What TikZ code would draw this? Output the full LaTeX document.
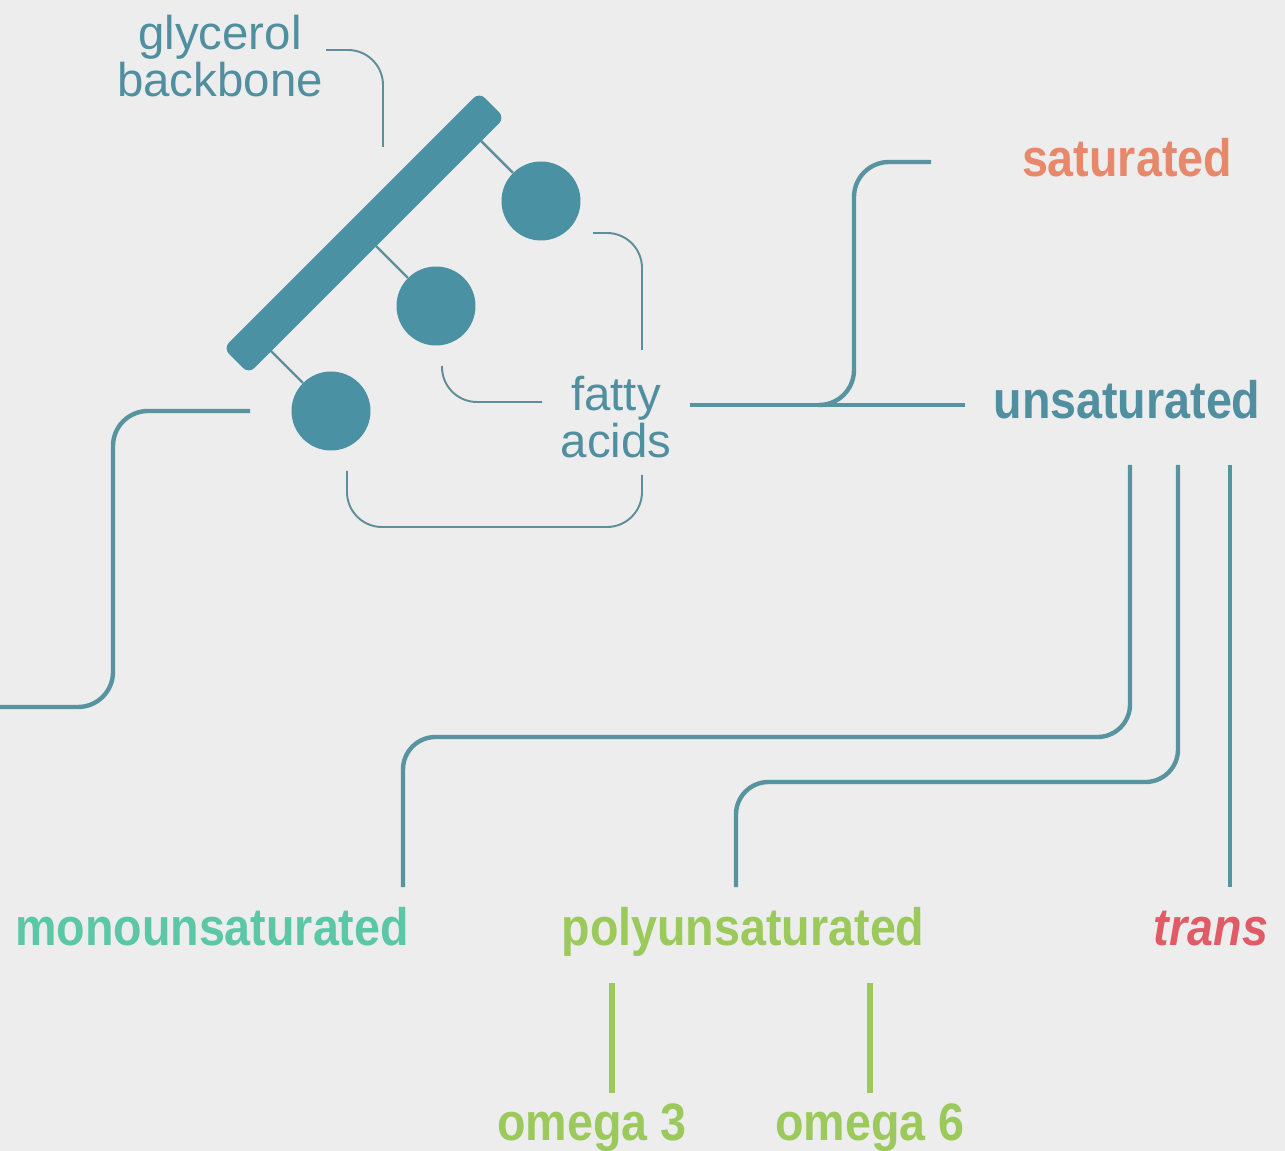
\documentclass[tikz,border=0pt]{standalone}
\usepackage{fontspec}
\setmainfont{Liberation Sans}
\newfontfamily\labelfont{Liberation Sans}[FakeStretch=0.885]
\usetikzlibrary{positioning,calc}
\definecolor{fatTeal}{HTML}{4A91A4}
\definecolor{lineTeal}{HTML}{5893A0}
\definecolor{leaderGray}{HTML}{5F8E9B}
\definecolor{textTeal}{HTML}{4F8FA0}
\definecolor{satSalmon}{HTML}{E8886B}
\definecolor{monoGreen}{HTML}{5CC7A6}
\definecolor{polyGreen}{HTML}{9BC95C}
\definecolor{transRed}{HTML}{E15B66}
\definecolor{bgGray}{HTML}{EDEDED}

\begin{document}
\begin{tikzpicture}[
  x=0.02cm, y=-0.02cm,
  plain/.style={text=textTeal, font=\fontsize{27}{27}\selectfont, align=center, inner sep=0pt, anchor=base},
  kind/.style={font=\labelfont\bfseries\fontsize{30}{36}\selectfont, inner sep=0pt, anchor=base},
  bar/.style={rectangle, fill=fatTeal, rounded corners=0.16cm, minimum width=7.24cm, minimum height=0.72cm, inner sep=0pt},
  acid/.style={circle, fill=fatTeal, minimum size=1.58cm, inner sep=0pt},
  stick/.style={draw=leaderGray, line width=1.4pt},
  leader/.style={draw=leaderGray, line width=1.1pt, rounded corners=0.7cm},
  branch/.style={draw=lineTeal, line width=2.5pt, rounded corners=0.65cm},
  omega/.style={draw=polyGreen, line width=3pt}
]
\fill[bgGray] (0,0) rectangle (1285,1151);
\useasboundingbox (0,0) rectangle (1285,1151);

\node[plain] (glycerol) at (220,97) {glycerol\\backbone};
\node[plain] (fatty) at (616,458) {fatty\\acids};
\node[kind, text=satSalmon] (sat) at (1127,177) {saturated};
\node[kind, text=textTeal] (unsat) at (1127,419) {unsaturated};
\node[kind, text=monoGreen] (mono) at (212,945) {monounsaturated};
\node[kind, text=polyGreen] (poly) at (743,945) {polyunsaturated};
\node[kind, text=transRed] (trans) at (1211,945) {\itshape trans};
\node[kind, text=polyGreen] (om3) at (592,1140) {omega 3};
\node[kind, text=polyGreen] (om6) at (870,1140) {omega 6};

\coordinate (bartop) at (492,105);
\coordinate (barbot) at (236,361);
\node[acid] (c1) at (541,201) {};
\node[acid] (c2) at (436,306) {};
\node[acid] (c3) at (331,411) {};
\foreach \c in {c1,c2,c3}
  \draw[stick] ($(barbot)!(\c)!(bartop)$) -- (\c);
\node[bar, rotate=45] (backbone) at ($(barbot)!0.5!(bartop)$) {};

\coordinate (gtip) at (383,147);
\coordinate (fa1) at (593,233);
\coordinate (fa2) at (642,350);
\coordinate (fa3) at (542,402);
\coordinate (fa4) at (642,475);
\draw[leader] ([xshift=0.06cm,yshift=0.94cm]glycerol.base east) -| (gtip);
\draw[leader] (fa1) -| (fa2);
\draw[leader] ([xshift=0.12cm,yshift=-0.4cm]c2.south) |- (fa3);
\draw[leader] ([xshift=0.32cm,yshift=-0.4cm]c3.south) |- (642,527) -- (fa4);

\coordinate (join) at (818,405);
\coordinate (satend) at (931,162);
\coordinate (mainend) at (965,405);
\coordinate (leftend) at (0,707);
\draw[branch] ([xshift=0.36cm]fatty.east |- join) -- (mainend);
\draw[branch, rounded corners=0.7cm] (satend) -- (854,162) -- (854,405) -- (join);
\draw[branch, rounded corners=0.7cm] ([xshift=-0.82cm]c3.west) -- (113,411) -- (113,707) -- (leftend);

\coordinate (monotop) at (403,887);
\coordinate (polytop) at (736,887);
\coordinate (transtop) at (1230,887);
\draw[branch] (1130,465) -- (1130,737) -- (403,737) -- (monotop);
\draw[branch] (1178,465) -- (1178,782) -- (736,782) -- (polytop);
\draw[branch] (1230,465) -- (transtop);

\draw[omega] (om3.north -| 612,0) ++(0,-10) -- (612,983);
\draw[omega] ([yshift=0.2cm]om6.north) -- (870,983);
\end{tikzpicture}
\end{document}
